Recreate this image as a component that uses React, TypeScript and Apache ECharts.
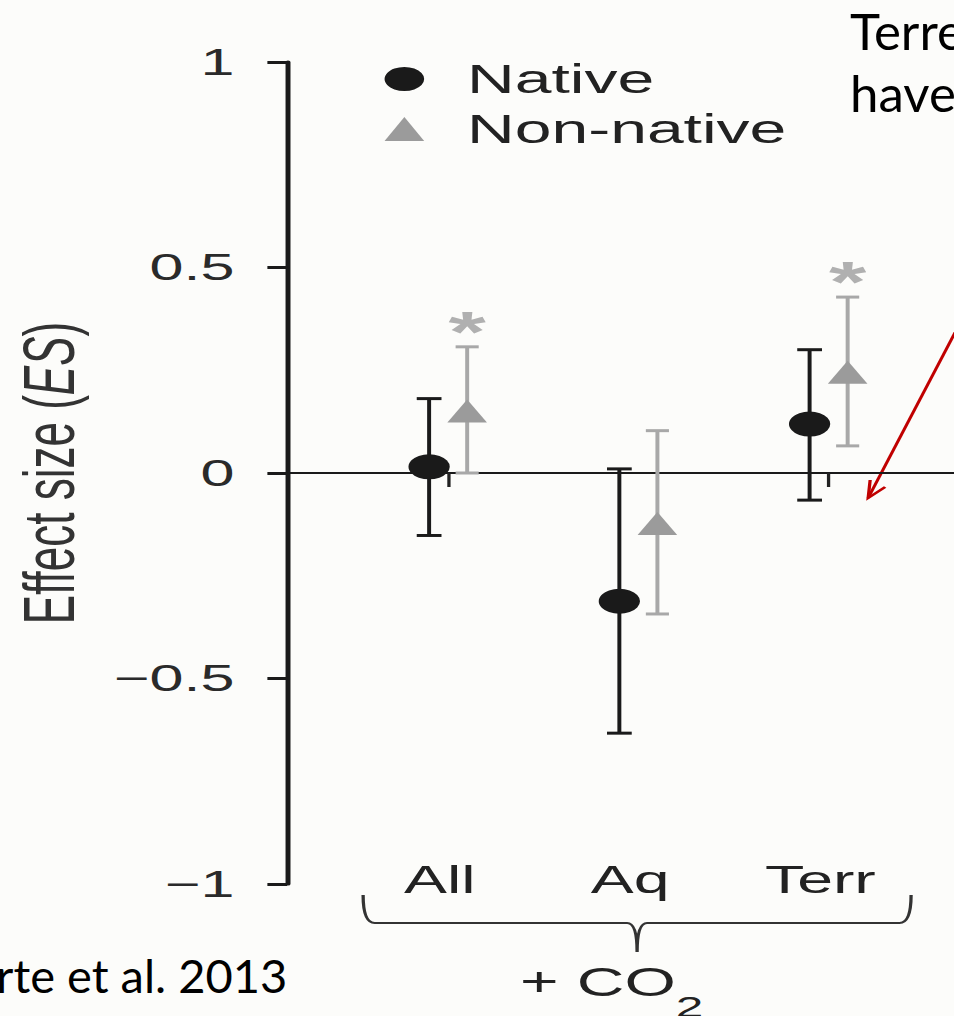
import React, { useEffect, useRef } from 'react';
import * as echarts from 'echarts';

// ---- data ----
const categories = ['All', 'Aq', 'Terr'];
const nativeMean = [0.015, -0.312, 0.119];
const nativeLow = [-0.152, -0.633, -0.066];
const nativeHigh = [0.181, 0.01, 0.3];
const nonNativeMean = [0.151, -0.123, 0.245];
const nonNativeLow = [0.0, -0.343, 0.066];
const nonNativeHigh = [0.307, 0.103, 0.428];
const nonNativeSignificant = [1, 0, 1];
const seriesNames = ['Native', 'Non-native'];
const yMin = -1;
const yMax = 1;
const yStep = 0.5;

// ---- layout ----
const W = 954;
const H = 1016;
const W0 = 578;
const STRETCH = W / W0;
const OFFSET = 0.1;
const X_MIN = -0.846;
const X_MAX = 2.659;

const FONT = "'Liberation Sans', Arial, Helvetica, sans-serif";
const CAL = "Lato, 'Open Sans', sans-serif";
const BLACK = '#1a1a1a';
const GREY = '#9b9b9b';
const GREY_BAR = '#a8a8a8';

let registered = false;
function registerShapes() {
  if (registered) return;
  registered = true;
  const brace =
    'M220,895 Q220,923 227,923 L380,923 Q386,923 386,952 Q386,923 392,923 L545,923 Q552,923 552,895';
  echarts.graphic.registerShape('brace', echarts.graphic.extendPath(brace, {}));
}

function errorBarItem(color: string, capHalf: number) {
  return (params: any, api: any) => {
    const x = api.value(0);
    const lo = api.value(1);
    const hi = api.value(2);
    const sig = api.value(3);
    const pLo = api.coord([x, lo]);
    const pHi = api.coord([x, hi]);
    const children: any[] = [
      { type: 'line', shape: { x1: pLo[0], y1: pLo[1], x2: pHi[0], y2: pHi[1] }, style: { stroke: color, lineWidth: 2.4 } },
      { type: 'line', shape: { x1: pLo[0] - capHalf, y1: pLo[1], x2: pLo[0] + capHalf, y2: pLo[1] }, style: { stroke: color, lineWidth: 3 } },
      { type: 'line', shape: { x1: pHi[0] - capHalf, y1: pHi[1], x2: pHi[0] + capHalf, y2: pHi[1] }, style: { stroke: color, lineWidth: 3 } },
    ];
    if (sig) {
      children.push({
        type: 'text',
        x: pHi[0],
        y: pHi[1] - 15,
        style: { text: '*', fill: '#b0b0b0', fontSize: 58, fontWeight: 'bold', fontFamily: FONT, align: 'center', verticalAlign: 'middle' },
      });
    }
    return { type: 'group', children };
  };
}

export default function App() {
  const ref = useRef<HTMLDivElement>(null);
  useEffect(() => {
    if (!ref.current) return;
    registerShapes();
    const chart = echarts.init(ref.current, undefined, { renderer: 'svg' });
    const nativePts = categories.map((_, i) => [i - OFFSET, nativeMean[i]]);
    const nonNativePts = categories.map((_, i) => [i + OFFSET, nonNativeMean[i]]);
    const nativeErr = categories.map((_, i) => [i - OFFSET, nativeLow[i], nativeHigh[i], 0]);
    const nonNativeErr = categories.map((_, i) => [i + OFFSET, nonNativeLow[i], nonNativeHigh[i], nonNativeSignificant[i]]);
    const catIdx = categories.map((_, i) => i);
    const inv = 1 / STRETCH;

    const option: any = {
      animation: false,
      backgroundColor: 'transparent',
      grid: { left: 170.3, right: 0, top: 62, bottom: 132, containLabel: false },
      legend: {
        orient: 'vertical',
        left: 228,
        top: 54,
        itemWidth: 24,
        itemHeight: 24,
        itemGap: 10,
        textStyle: { fontSize: 40, color: '#222', fontFamily: FONT, padding: [0, 0, 0, 21] },
        data: [
          { name: seriesNames[0], icon: 'circle' },
          { name: seriesNames[1], icon: 'triangle' },
        ],
      },
      xAxis: [
        {
          type: 'value',
          min: X_MIN,
          max: X_MAX,
          position: 'bottom',
          axisLine: { show: false, onZero: false },
          axisTick: { show: false },
          splitLine: { show: false },
          axisLabel: {
            customValues: catIdx,
            formatter: (v: number) => categories[Math.round(v)] ?? '',
            fontSize: 39,
            color: '#222',
            fontFamily: FONT,
            margin: -24,
            padding: [0, 10, 0, 0],
          },
        },
        {
          type: 'value',
          min: X_MIN,
          max: X_MAX,
          position: 'bottom',
          axisLine: { show: true, onZero: true, onZeroAxisIndex: 0, lineStyle: { color: '#1a1a1a', width: 1.8 } },
          axisTick: { show: true, customValues: [catIdx[0], catIdx[2]], length: 14, lineStyle: { color: '#222', width: 2 } },
          axisLabel: { show: false },
          splitLine: { show: false },
        },
      ],
      yAxis: {
        type: 'value',
        min: yMin,
        max: yMax,
        interval: yStep,
        axisLine: { show: true, onZero: false, lineStyle: { color: '#1a1a1a', width: 3 } },
        axisTick: { show: true, length: 12, lineStyle: { color: '#1a1a1a', width: 3 } },
        splitLine: { show: false },
        axisLabel: {
          fontSize: 37,
          color: '#2a2a2a',
          fontFamily: FONT,
          margin: 32,
          formatter: (v: number) => (v < 0 ? '\u2212' : '') + String(Math.abs(v)),
        },
        name: 'Effect size ({i|ES})',
        nameLocation: 'middle',
        nameRotate: 90,
        nameGap: 122,
        nameTextStyle: {
          fontSize: 44,
          color: '#333',
          fontFamily: FONT,
          rich: { i: { fontSize: 44, color: '#333', fontFamily: FONT, fontStyle: 'italic' } },
        },
      },
      series: [
        {
          type: 'custom',
          name: seriesNames[0] + ' CI',
          xAxisIndex: 0,
          renderItem: errorBarItem(BLACK, 7.5),
          data: nativeErr,
          encode: { x: 0, y: [1, 2] },
          z: 2,
          silent: true,
        },
        {
          type: 'custom',
          name: seriesNames[1] + ' CI',
          xAxisIndex: 0,
          renderItem: errorBarItem(GREY_BAR, 7),
          data: nonNativeErr,
          encode: { x: 0, y: [1, 2] },
          z: 2,
          silent: true,
        },
        {
          type: 'scatter',
          name: seriesNames[0],
          xAxisIndex: 0,
          symbol: 'circle',
          symbolSize: 25,
          itemStyle: { color: BLACK, opacity: 1 },
          data: nativePts,
          z: 4,
        },
        {
          type: 'scatter',
          name: seriesNames[1],
          xAxisIndex: 0,
          symbol: 'triangle',
          symbolSize: [24, 23],
          itemStyle: { color: GREY, opacity: 1 },
          data: nonNativePts,
          z: 3,
        },
      ],
      graphic: [
        { type: 'brace', x: 0, y: 0, style: { stroke: '#333', fill: null, lineWidth: 2 }, silent: true },
        {
          type: 'text',
          x: 315,
          y: 992,
          style: {
            text: '{a|+ CO}{s|2}',
            fill: '#222',
            fontFamily: FONT,
            align: 'left',
            verticalAlign: 'middle',
            rich: {
              a: { fontSize: 40, fontFamily: FONT, fill: '#222', lineHeight: 40, verticalAlign: 'top' },
              s: { fontSize: 30, fontFamily: FONT, fill: '#222', verticalAlign: 'top', padding: [30, 0, 0, 0] },
            },
          },
        },
        { type: 'line', shape: { x1: 582, y1: 322, x2: 526, y2: 498 }, style: { stroke: '#c00000', lineWidth: 2 } },
        {
          type: 'polyline',
          shape: { points: [[527.2, 480], [526, 498], [536.3, 487]] },
          style: { stroke: '#c00000', lineWidth: 2, fill: null },
        },
        {
          type: 'text', x: 515, y: 31, scaleX: inv,
          style: { text: 'Terre', fill: '#000', fontSize: 51, fontFamily: CAL, align: 'left', verticalAlign: 'middle' },
        },
        {
          type: 'text', x: 515, y: 93, scaleX: inv,
          style: { text: 'have', fill: '#000', fontSize: 51, fontFamily: CAL, align: 'left', verticalAlign: 'middle' },
        },
        {
          type: 'text', x: 174, y: 975.5, scaleX: inv,
          style: { text: 'rte et al. 2013', fill: '#000', fontSize: 47, fontFamily: CAL, align: 'right', verticalAlign: 'middle' },
        },
      ],
    };
    chart.setOption(option);
    return () => chart.dispose();
  }, []);

  return (
    <div style={{ position: 'absolute', left: 0, top: 0, width: W, height: H, overflow: 'hidden', background: '#fcfcfa' }}>
      <div
        ref={ref}
        style={{ width: W0, height: H, transform: `scaleX(${STRETCH})`, transformOrigin: '0 0' }}
      />
    </div>
  );
}
